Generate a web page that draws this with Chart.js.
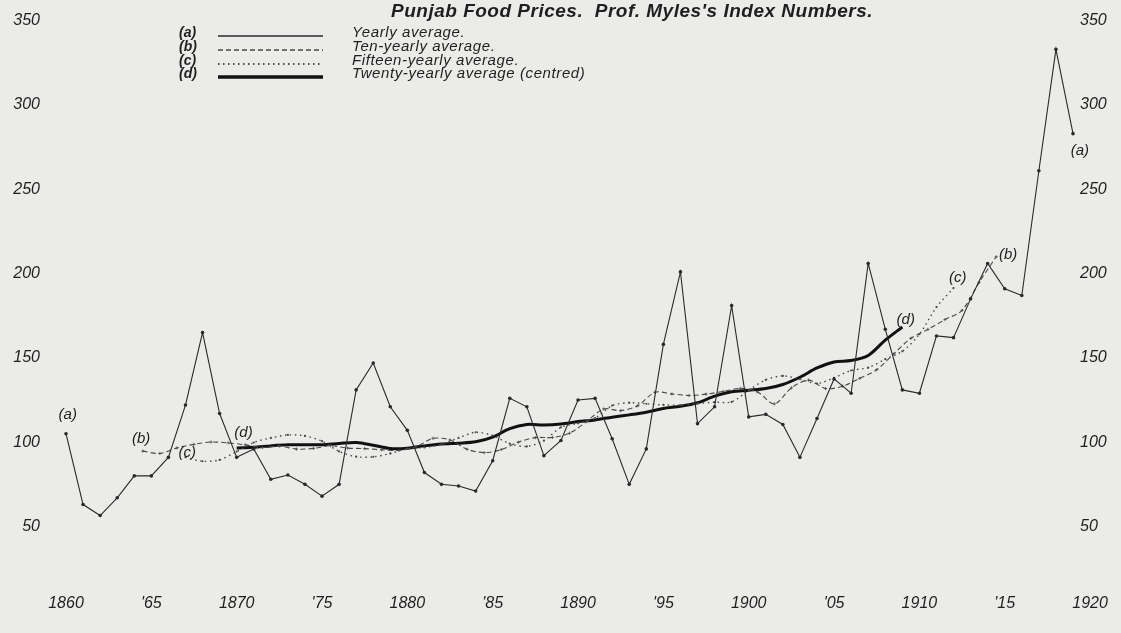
<!DOCTYPE html>
<html>
<head>
<meta charset="utf-8">
<title>Punjab Food Prices</title>
<script src="https://cdn.jsdelivr.net/npm/chart.js@4.4.1/dist/chart.umd.min.js"></script>
<style>
  html, body { margin: 0; padding: 0; background: #ebebe9; }
  #wrap { width: 1121px; height: 633px; position: relative; }
</style>
</head>
<body>
<div id="wrap"><canvas id="chart"></canvas></div>
<script>
// Punjab food prices, Prof. Myles's index numbers

const years = [
  1860, 1861, 1862, 1863, 1864, 1865, 1866, 1867, 1868, 1869,
  1870, 1871, 1872, 1873, 1874, 1875, 1876, 1877, 1878, 1879,
  1880, 1881, 1882, 1883, 1884, 1885, 1886, 1887, 1888, 1889,
  1890, 1891, 1892, 1893, 1894, 1895, 1896, 1897, 1898, 1899,
  1900, 1901, 1902, 1903, 1904, 1905, 1906, 1907, 1908, 1909,
  1910, 1911, 1912, 1913, 1914, 1915, 1916, 1917, 1918, 1919
];
// (a) yearly average
const yearlyAvg = [
  105, 63, 56.5, 67, 80, 80, 91, 122, 165, 117,
  91, 96, 78, 80.5, 75, 68, 75, 131, 147, 121,
  107, 82, 75, 74, 71, 89, 126, 121, 92, 101,
  125, 126, 102, 75, 96, 158, 201, 111, 121, 181,
  115, 116.5, 110.5, 91, 114, 137.5, 129, 206, 167, 131,
  129, 163, 162, 185, 206, 191, 187, 261, 333, 283
];

// (b) ten-yearly average, plotted at mid-period
const tenYears = [
  1864.5, 1865.5, 1866.5, 1867.5, 1868.5, 1869.5, 1870.5, 1871.5, 1872.5, 1873.5,
  1874.5, 1875.5, 1876.5, 1877.5, 1878.5, 1879.5, 1880.5, 1881.5, 1882.5, 1883.5,
  1884.5, 1885.5, 1886.5, 1887.5, 1888.5, 1889.5, 1890.5, 1891.5, 1892.5, 1893.5,
  1894.5, 1895.5, 1896.5, 1897.5, 1898.5, 1899.5, 1900.5, 1901.5, 1902.5, 1903.5,
  1904.5, 1905.5, 1906.5, 1907.5, 1908.5, 1909.5, 1910.5, 1911.5, 1912.5, 1913.5,
  1914.5
];
const tenYearAvg = [
  94.7, 93.3, 96.6, 98.7, 100.1, 99.6, 98.4, 96.8, 97.7, 95.9,
  96.3, 97.9, 96.5, 96.2, 95.5, 95.1, 97.2, 102.3, 101.3, 95.8,
  93.8, 95.6, 100, 102.7, 102.8, 105.3, 112.2, 119.7, 118.7, 121.6,
  129.6, 128.6, 127.7, 128.5, 130.1, 131.9, 129.9, 122.7, 132.2, 136.8,
  131.8, 133.2, 137.8, 143, 152.4, 161.6, 166.9, 172.7, 178.2, 194.8,
  210
];

// (c) fifteen-yearly average
const fifteenYears = [
  1867, 1868, 1869, 1870, 1871, 1872, 1873, 1874, 1875, 1876,
  1877, 1878, 1879, 1880, 1881, 1882, 1883, 1884, 1885, 1886,
  1887, 1888, 1889, 1890, 1891, 1892, 1893, 1894, 1895, 1896,
  1897, 1898, 1899, 1900, 1901, 1902, 1903, 1904, 1905, 1906,
  1907, 1908, 1909, 1910, 1911, 1912
];
const fifteenYearAvg = [
  91.1, 88.7, 89.5, 94.4, 99.8, 102.5, 104.3, 103.7, 100.6, 94.5,
  91.4, 91.3, 93.3, 96.2, 96.9, 98.7, 102.5, 105.9, 103.9, 99.1,
  97.5, 100.9, 108.8, 111.2, 114.3, 121.7, 123.4, 122.8, 122.1, 122,
  122.9, 123.7, 123.9, 130.8, 137, 139.3, 137.4, 134.8, 138.2, 142.5,
  144.2, 149.2, 153.9, 164, 180.1, 191.4
];

// (d) twenty-yearly average (centred)
const twentyYears = [
  1870, 1871, 1872, 1873, 1874, 1875, 1876, 1877, 1878, 1879,
  1880, 1881, 1882, 1883, 1884, 1885, 1886, 1887, 1888, 1889,
  1890, 1891, 1892, 1893, 1894, 1895, 1896, 1897, 1898, 1899,
  1900, 1901, 1902, 1903, 1904, 1905, 1906, 1907, 1908, 1909
];
const twentyYearAvg = [
  96.5, 97, 97.8, 98.4, 98.5, 98.5, 99.2, 99.8, 98.2, 96.2,
  96.4, 97.8, 98.9, 99.4, 100.2, 103, 108, 110.5, 110.2, 110.8,
  112.2, 113.2, 114.8, 116.2, 117.8, 120, 121.3, 123.4, 127.3, 129.9,
  130.8, 131.8, 134.2, 138.5, 144, 147.6, 148.4, 151.4, 160.5, 168.3
];

const xTickYears = [1860, 1865, 1870, 1875, 1880, 1885, 1890, 1895, 1900, 1905, 1910, 1915, 1920];
const xTickLabels = ['1860', "'65", '1870', "'75", '1880', "'85", '1890', "'95", '1900', "'05", '1910', "'15", '1920'];
const yTicks = [50, 100, 150, 200, 250, 300, 350];

const seriesNames = ['Yearly average.', 'Ten-yearly average.', 'Fifteen-yearly average.', 'Twenty-yearly average (centred)'];
const seriesKeys = ['(a)', '(b)', '(c)', '(d)'];

const INK = '#1f1f1f';
const TICK_FONT = { family: '"Liberation Sans", "DejaVu Sans", sans-serif', size: 16, style: 'italic' };

function pts(xs, ys) {
  return xs.map((x, i) => ({ x, y: ys[i] }));
}

// where the little (a) (b) (c) (d) tags sit, in data units
const tagSpots = [
  { t: '(a)', x: 1860.1, y: 116.5 }, { t: '(a)', x: 1919.4, y: 273 },
  { t: '(b)', x: 1864.4, y: 101.8 }, { t: '(b)', x: 1915.2, y: 211 },
  { t: '(c)', x: 1867.1, y: 93.5 },  { t: '(c)', x: 1912.25, y: 197.6 },
  { t: '(d)', x: 1870.4, y: 105.3 }, { t: '(d)', x: 1909.2, y: 172.4 }
];

const paperText = {
  id: 'paperText',
  afterDatasetsDraw(chart) {
    const { ctx, scales: { x, y } } = chart;
    ctx.save();
    ctx.fillStyle = INK;
    ctx.textBaseline = 'middle';

    ctx.font = 'italic bold 19px "Liberation Sans", sans-serif';
    ctx.letterSpacing = '0.5px';
    ctx.textAlign = 'center';
    ctx.fillText("Punjab Food Prices.  Prof. Myles's Index Numbers.", 632, 12);

    // legend block
    const rowsY = [33, 47, 61, 74];
    chart.data.datasets.forEach((ds, i) => {
      const ry = rowsY[i];
      ctx.textAlign = 'left';
      ctx.letterSpacing = '0px';
      ctx.font = 'italic bold 14px "Liberation Sans", sans-serif';
      ctx.fillText(seriesKeys[i], 179, ry);
      ctx.font = 'italic 15px "Liberation Sans", sans-serif';
      ctx.letterSpacing = '0.6px';
      ctx.fillText(seriesNames[i], 352, ry);
      ctx.beginPath();
      ctx.strokeStyle = ds.borderColor;
      ctx.lineWidth = ds.borderWidth + 0.4;
      ctx.setLineDash(ds.borderDash || []);
      ctx.moveTo(218, ry + 3);
      ctx.lineTo(323, ry + 3);
      ctx.stroke();
    });
    ctx.setLineDash([]);
    ctx.letterSpacing = '0px';

    ctx.font = 'italic 15px "Liberation Sans", sans-serif';
    ctx.textAlign = 'center';
    tagSpots.forEach(s => {
      ctx.fillText(s.t, x.getPixelForValue(s.x), y.getPixelForValue(s.y));
    });
    ctx.restore();
  }
};

new Chart(document.getElementById('chart'), {
  type: 'line',
  data: {
    datasets: [
      {
        label: seriesNames[0],
        data: pts(years, yearlyAvg),
        borderColor: '#2a2a2a',
        borderWidth: 1.1,
        pointRadius: 1.8,
        pointBackgroundColor: '#2a2a2a',
        pointBorderWidth: 0,
        tension: 0
      },
      {
        label: seriesNames[1],
        data: pts(tenYears, tenYearAvg),
        borderColor: '#4a4a4a',
        borderWidth: 1.1,
        borderDash: [5, 3],
        pointStyle: 'cross',
        pointRadius: 1.6,
        pointBorderColor: '#4a4a4a',
        pointBorderWidth: 0.8,
        tension: 0.3
      },
      {
        label: seriesNames[2],
        data: pts(fifteenYears, fifteenYearAvg),
        borderColor: '#4a4a4a',
        borderWidth: 1.4,
        borderDash: [1.5, 3.5],
        pointRadius: 1.1,
        pointBackgroundColor: '#4a4a4a',
        pointBorderWidth: 0,
        tension: 0.3
      },
      {
        label: seriesNames[3],
        data: pts(twentyYears, twentyYearAvg),
        borderColor: '#111111',
        borderWidth: 3,
        pointRadius: 0,
        tension: 0.3
      }
    ]
  },
  options: {
    responsive: true,
    maintainAspectRatio: false,
    animation: false,
    layout: { padding: 0 },
    plugins: {
      legend: { display: false },
      tooltip: { enabled: false }
    },
    scales: {
      x: {
        type: 'linear',
        min: 1858.594,
        max: 1919.234,
        grid: { display: false, drawTicks: false },
        border: { display: false },
        ticks: {
          autoSkip: false,
          maxRotation: 0,
          padding: 9,
          color: INK,
          font: TICK_FONT,
          callback: v => xTickLabels[xTickYears.indexOf(v)] ?? ''
        },
        afterBuildTicks: s => { s.ticks = xTickYears.map(v => ({ value: v })); },
        afterFit: s => { s.height = 48; s.paddingLeft = 0; s.paddingRight = 0; }
      },
      y: {
        position: 'left',
        min: 15.29,
        max: 359.41,
        grid: { display: false, drawTicks: false },
        border: { display: false },
        ticks: { padding: 2, color: INK, font: TICK_FONT },
        afterBuildTicks: s => { s.ticks = yTicks.map(v => ({ value: v })); },
        afterFit: s => { s.width = 42; s.paddingTop = 0; s.paddingBottom = 0; }
      },
      y2: {
        position: 'right',
        min: 15.29,
        max: 359.41,
        grid: { display: false, drawTicks: false },
        border: { display: false },
        ticks: { padding: 3, color: INK, font: TICK_FONT },
        afterBuildTicks: s => { s.ticks = yTicks.map(v => ({ value: v })); },
        afterFit: s => { s.width = 44; s.paddingTop = 0; s.paddingBottom = 0; }
      }
    }
  },
  plugins: [paperText]
});
</script>
</body>
</html>
